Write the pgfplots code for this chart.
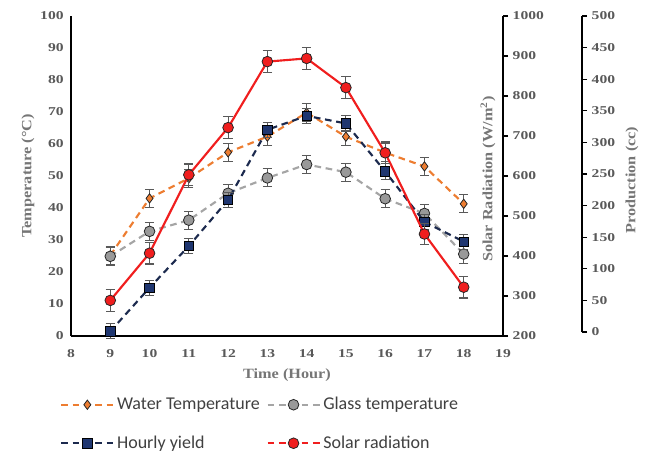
\documentclass[border=0pt]{standalone}
\usepackage{pgfplots}
\pgfplotsset{compat=1.18}
\usepackage{fontspec}
\setmainfont{Liberation Serif}
\newfontfamily\axfont[FakeStretch=1.3]{Liberation Serif}
\newfontfamily\labfont[FakeStretch=1.15]{Liberation Serif}
\newfontfamily\legfont{Carlito}
\definecolor{cOrange}{HTML}{ED7D31}
\definecolor{cGray}{HTML}{A5A5A5}
\definecolor{cGrayFill}{HTML}{999999}
\definecolor{cNavy}{HTML}{1C2A4E}
\definecolor{cNavyFill}{HTML}{1F3670}
\definecolor{cRed}{HTML}{F01E1E}
\definecolor{edge}{HTML}{262626}
\definecolor{tickgray}{HTML}{595959}
\definecolor{labgray}{HTML}{767676}
\definecolor{leggray}{HTML}{404040}
\pgfplotsset{
  common/.style={scale only axis, width=324pt, height=240pt, xmin=8, xmax=19, clip=false,
    at={(53.25pt,89.25pt)}, anchor=south west,
    /pgf/number format/assume math mode=true, /pgf/number format/1000 sep={},
    tick label style={font=\axfont\bfseries\fontsize{9}{10}\selectfont, text=tickgray},
    label style={font=\labfont\bfseries\fontsize{10.6}{12}\selectfont, text=labgray}},
  ebar/.style={error bars/y dir=both, error bars/y explicit,
    error bars/error bar style={line width=0.8pt, tickgray, solid},
    error bars/error mark options={rotate=90, mark size=3.5pt, line width=0.8pt, tickgray}},
  waterst/.style={color=cOrange, line width=1.6pt, dash pattern=on 5pt off 3.5pt,
    mark=diamond*, mark size=3.5pt, mark options={solid, fill=cOrange, draw=edge, line width=0.6pt}},
  glassst/.style={color=cGray, line width=1.6pt, dash pattern=on 5pt off 3.5pt,
    mark=*, mark size=4pt, mark options={solid, fill=cGrayFill, draw=edge, line width=0.6pt}},
  hourlyst/.style={color=cNavy, line width=1.6pt, dash pattern=on 5pt off 3.5pt,
    mark=square*, mark size=3.5pt, mark options={solid, fill=cNavyFill, draw=black, line width=0.6pt}},
  solarst/.style={color=cRed, line width=1.6pt, solid,
    mark=*, mark size=4pt, mark options={solid, fill=cRed, draw=edge, line width=0.6pt}},
  solarleg/.style={color=cRed, line width=1.6pt, dash pattern=on 5pt off 3.5pt,
    mark=*, mark size=4pt, mark options={solid, fill=cRed, draw=edge, line width=0.6pt}},
}
\begin{document}
\begin{tikzpicture}
\path[use as bounding box] (0,0) rectangle (490.5pt,341.25pt);
% main temperature axis
\begin{axis}[common, axis x line*=bottom, axis y line*=left,
  ymin=0, ymax=100, ytick={0,10,...,100}, xtick={8,...,19},
  major tick length=0pt, axis line style={-, line width=1.1pt, black},
  xlabel={Time (Hour)}, ylabel={Temperature (°C)},
  xlabel style={at={(axis description cs:0.5,-0.1219)}, anchor=center},
  ylabel style={at={(axis description cs:-0.0995,0.5)}, anchor=center},
  xticklabel style={yshift=-6.5pt}, yticklabel style={xshift=-2pt}]
\addplot[waterst, ebar] coordinates {
  (9,25.2) +- (0,2.8) (10,43.0) +- (0,2.8) (11,49.3) +- (0,2.8) (12,57.4) +- (0,2.8)
  (13,62.3) +- (0,2.8) (14,69.8) +- (0,2.8) (15,62.3) +- (0,2.8) (16,57.3) +- (0,2.8)
  (17,53.0) +- (0,2.8) (18,41.3) +- (0,2.8)};
\addplot[glassst, ebar] coordinates {
  (9,24.9) +- (0,2.8) (10,32.7) +- (0,2.8) (11,36.2) +- (0,2.8) (12,44.6) +- (0,2.8)
  (13,49.4) +- (0,2.8) (14,53.6) +- (0,2.8) (15,51.2) +- (0,2.8) (16,42.9) +- (0,2.8)
  (17,38.3) +- (0,2.8) (18,25.6) +- (0,2.8)};
\end{axis}
% hourly yield (production scale, hidden)
\begin{axis}[common, hide axis, ymin=-6.33, ymax=500]
\addplot[hourlyst, ebar] coordinates {
  (9,1) +- (0,12) (10,70) +- (0,12) (11,136) +- (0,12) (12,209) +- (0,12)
  (13,320) +- (0,12) (14,342) +- (0,12) (15,330) +- (0,12) (16,254) +- (0,12)
  (17,174) +- (0,12) (18,143) +- (0,12)};
\end{axis}
% solar radiation axis
\begin{axis}[common, hide x axis, axis y line*=right,
  ymin=200, ymax=1000, ytick={200,300,...,1000},
  tick align=outside, major tick length=3.75pt,
  ytick style={line width=0.8pt, black},
  axis line style={-, line width=1.1pt, black},
  ylabel={Solar Radiation (W/m\textsuperscript{2})},
  ylabel style={at={(axis description cs:0.9653,0.49)}, anchor=center},
  legend columns=2,
  legend cell align=left,
  legend image code/.code={\draw[mark repeat=2, mark phase=2] plot coordinates {(0pt,0pt) (19.5pt,0pt) (39pt,0pt)};},
  legend style={at={(axis description cs:-0.0255,-0.183)}, anchor=north west,
    draw=none, fill=none, inner sep=0pt,
    font=\legfont\fontsize{13.5}{15}\selectfont, text=leggray,
    row sep=14pt, /tikz/every even column/.append style={column sep=3pt}}]
\addlegendimage{waterst}
\addlegendentry{Water Temperature}
\addlegendimage{glassst}
\addlegendentry{Glass temperature}
\addlegendimage{hourlyst}
\addlegendentry{Hourly yield}
\addlegendimage{solarleg}
\addlegendentry{Solar radiation}
\addplot[solarst, forget plot, ebar] coordinates {
  (9,289) +- (0,27) (10,407) +- (0,27) (11,603) +- (0,27) (12,721) +- (0,27)
  (13,886) +- (0,27) (14,894) +- (0,27) (15,821) +- (0,27) (16,658) +- (0,27)
  (17,455) +- (0,27) (18,322) +- (0,27)};
\end{axis}
% production axis
\begin{axis}[scale only axis, width=10pt, height=237pt, at={(436.5pt,92.25pt)}, anchor=south east,
  hide x axis, axis y line*=right, xmin=0, xmax=1, ymin=0, ymax=500, ytick={0,50,...,500},
  tick align=outside, major tick length=3.75pt,
  ytick style={line width=0.8pt, black},
  axis line style={-, line width=1.1pt, black},
  /pgf/number format/assume math mode=true, /pgf/number format/1000 sep={},
  tick label style={font=\axfont\bfseries\fontsize{9}{10}\selectfont, text=tickgray},
  label style={font=\labfont\bfseries\fontsize{10.6}{12}\selectfont, text=labgray},
  ylabel={Production (cc)},
  ylabel style={at={(axis description cs:4.75,0.481)}, anchor=center}]
\addplot[draw=none] coordinates {(0,0)};
\end{axis}
\end{tikzpicture}
\end{document}
